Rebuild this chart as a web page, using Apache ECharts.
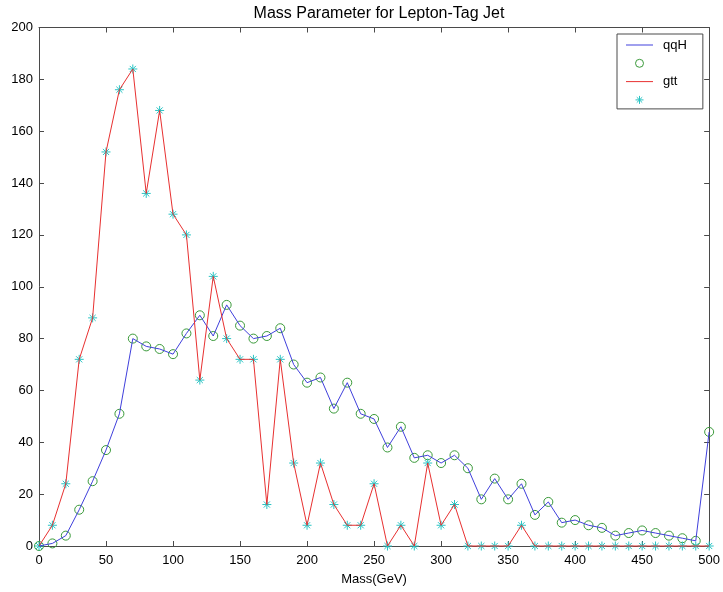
<!DOCTYPE html>
<html>
<head>
<meta charset="utf-8">
<script src="https://cdn.jsdelivr.net/npm/echarts@6/dist/echarts.min.js"></script>
<style>
html,body{margin:0;padding:0;background:#fff;}
#chart{width:723px;height:592px;}
</style>
</head>
<body>
<div id="chart"></div>
<script>
const massBins = [0,10,20,30,40,50,60,70,80,90,100,110,120,130,140,150,160,170,180,190,200,210,220,230,240,250,260,270,280,290,300,310,320,330,340,350,360,370,380,390,400,410,420,430,440,450,460,470,480,490,500];
const qqH = [0,1,4,14,25,37,51,80,77,76,74,82,89,81,93,85,80,81,84,70,63,65,53,63,51,49,38,46,34,35,32,35,30,18,26,18,24,12,17,9,10,8,7,4,5,6,5,4,3,2,44];
const gtt = [0,8,24,72,88,152,176,184,136,168,128,120,64,104,80,72,72,16,72,32,8,32,16,8,8,24,0,8,0,32,8,16,0,0,0,0,8,0,0,0,0,0,0,0,0,0,0,0,0,0,0];
const xTicks = {min:0, max:500, interval:50};
const yTicks = {min:0, max:200, interval:20};
const titleText = 'Mass Parameter for Lepton-Tag Jet';
const xName = 'Mass(GeV)';

const pair = arr => massBins.map((x,i)=>[x,arr[i]]);
const FONT = 'Liberation Sans, Arial, sans-serif';
const AX = '#4a4a4a';
const BLUE = '#4040dc', GREEN = '#3a9a3a', RED = '#e83030', CYAN = '#28c4c4';
const STAR = 'path://M0,5L10,5M5,0L5,10M1.6,1.6L8.4,8.4M8.4,1.6L1.6,8.4';
const LINEICON = 'path://M0,0L27,0L27,1L0,1Z';

const chart = echarts.init(document.getElementById('chart'));
const axisCommon = {
  type:'value',
  axisLine:{show:true, onZero:false, lineStyle:{color:AX, width:1}},
  axisTick:{show:true, inside:true, length:5, lineStyle:{color:AX}},
  splitLine:{show:false},
  axisLabel:{color:'#000', fontFamily:FONT, fontSize:13}
};
chart.setOption({
  backgroundColor:'#fff',
  animation:false,
  title:{text:titleText, left:374, top:1, textAlign:'center',
    textStyle:{fontFamily:FONT, fontSize:16, fontWeight:'normal', color:'#000'}},
  grid:{left:39, right:13, top:27.5, bottom:46, containLabel:false},
  legend:{
    orient:'vertical', left:617, top:34,
    padding:[4,16,2,9], itemGap:4.3, itemWidth:27, itemHeight:8,
    backgroundColor:'#fff', borderColor:AX, borderWidth:1, borderRadius:0,
    align:'left',
    textStyle:{fontFamily:FONT, fontSize:13, color:'#000', lineHeight:14, padding:[0,0,0,5]},
    data:[
      {name:'qqH', icon:LINEICON, itemStyle:{color:BLUE, borderColor:BLUE, borderWidth:0}, lineStyle:{color:BLUE}},
      {name:' ', icon:'circle', itemStyle:{color:'rgba(0,0,0,0)', borderColor:GREEN, borderWidth:1}},
      {name:'gtt', icon:LINEICON, itemStyle:{color:RED, borderColor:RED, borderWidth:0}, lineStyle:{color:RED}},
      {name:'  ', icon:STAR, itemStyle:{color:'rgba(0,0,0,0)', borderColor:CYAN, borderWidth:1}}
    ]
  },
  xAxis:[
    Object.assign({}, axisCommon, xTicks, {position:'bottom',
      name:xName, nameLocation:'middle', nameGap:27,
      nameTextStyle:{fontFamily:FONT, fontSize:13, color:'#000'},
      axisLabel:{color:'#000', fontFamily:FONT, fontSize:13, margin:8}}),
    Object.assign({}, axisCommon, xTicks, {position:'top', axisLabel:{show:false}})
  ],
  yAxis:[
    Object.assign({}, axisCommon, yTicks, {position:'left', axisLabel:{color:'#000', fontFamily:FONT, fontSize:13, margin:6}}),
    Object.assign({}, axisCommon, yTicks, {position:'right', axisLabel:{show:false}})
  ],
  series:[
    {name:'qqH', type:'line', data:pair(qqH), symbol:'none', clip:false, symbolKeepAspect:true,
      lineStyle:{color:BLUE, width:1}, itemStyle:{color:BLUE}},
    {name:' ', type:'scatter', data:pair(qqH), symbol:'circle', symbolSize:9, clip:false,
      symbolKeepAspect:true,
      itemStyle:{color:'rgba(0,0,0,0)', borderColor:GREEN, borderWidth:1, opacity:1}},
    {name:'gtt', type:'line', data:pair(gtt), symbol:'none', clip:false, symbolKeepAspect:true,
      lineStyle:{color:RED, width:1}, itemStyle:{color:RED}},
    {name:'  ', type:'scatter', data:pair(gtt), symbol:STAR, symbolSize:9, clip:false,
      symbolKeepAspect:true,
      itemStyle:{color:'none', borderColor:CYAN, borderWidth:1, opacity:1}}
  ]
});
</script>
</body>
</html>
